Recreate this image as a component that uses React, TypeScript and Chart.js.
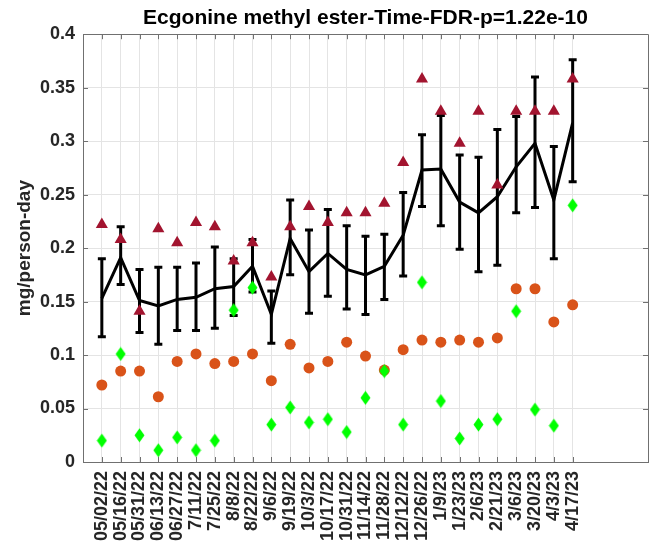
import React, { useEffect, useRef } from 'react';
import { Chart, registerables } from 'chart.js';
Chart.register(...registerables);

const titleText = 'Ecgonine methyl ester-Time-FDR-p=1.22e-10';
const yTitle = 'mg/person-day';

const dates = ['05/02/22', '05/16/22', '05/31/22', '06/13/22', '06/27/22', '7/11/22', '7/25/22', '8/8/22', '8/22/22', '9/6/22', '9/19/22', '10/3/22', '10/17/22', '10/31/22', '11/14/22', '11/28/22', '12/12/22', '12/26/22', '1/9/23', '1/23/23', '2/6/23', '2/21/23', '3/6/23', '3/20/23', '4/3/23', '4/17/23'];

const meanValues = [0.153, 0.191, 0.151, 0.146, 0.152, 0.154, 0.162, 0.164, 0.183, 0.138, 0.209, 0.178, 0.195, 0.180, 0.175, 0.183, 0.212, 0.273, 0.274, 0.243, 0.233, 0.248, 0.276, 0.298, 0.245, 0.317];
const errHigh = [0.190, 0.220, 0.180, 0.182, 0.182, 0.186, 0.201, 0.190, 0.208, 0.160, 0.245, 0.217, 0.236, 0.221, 0.211, 0.213, 0.252, 0.306, 0.324, 0.287, 0.285, 0.311, 0.323, 0.360, 0.295, 0.376];
const errLow = [0.117, 0.166, 0.121, 0.110, 0.123, 0.123, 0.125, 0.137, 0.159, 0.111, 0.175, 0.139, 0.155, 0.143, 0.138, 0.152, 0.174, 0.239, 0.221, 0.199, 0.178, 0.184, 0.233, 0.238, 0.190, 0.262];
const maxValues = [0.222, 0.208, 0.141, 0.218, 0.205, 0.224, 0.220, 0.188, 0.205, 0.173, 0.220, 0.239, 0.224, 0.233, 0.233, 0.242, 0.280, 0.358, 0.328, 0.298, 0.328, 0.259, 0.328, 0.328, 0.328, 0.358];
const circleValues = [0.072, 0.085, 0.085, 0.061, 0.094, 0.101, 0.092, 0.094, 0.101, 0.076, 0.110, 0.088, 0.094, 0.112, 0.099, 0.086, 0.105, 0.114, 0.112, 0.114, 0.112, 0.116, 0.162, 0.162, 0.131, 0.147];
const diamondValues = [0.020, 0.101, 0.025, 0.011, 0.023, 0.011, 0.020, 0.142, 0.163, 0.035, 0.051, 0.037, 0.040, 0.028, 0.060, 0.085, 0.035, 0.168, 0.057, 0.022, 0.035, 0.040, 0.141, 0.049, 0.034, 0.240];

const yMin = 0;
const yMax = 0.4;
const yStep = 0.05;
const xMin = 0;
const xMax = 30;

const FONT = '"Liberation Sans", Arial, Helvetica, sans-serif';
const AXIS_COLOR = '#707070';
const GRID_COLOR = '#e4e4e4';

export default function App() {
  const ref = useRef<HTMLCanvasElement>(null);

  useEffect(() => {
    const canvas = ref.current;
    if (!canvas) return;

    const diamond = document.createElement('canvas');
    diamond.width = 11;
    diamond.height = 15;
    const dctx = diamond.getContext('2d')!;
    dctx.fillStyle = '#00ff00';
    dctx.beginPath();
    dctx.moveTo(5.5, 0.5);
    dctx.lineTo(10.5, 7.5);
    dctx.lineTo(5.5, 14.5);
    dctx.lineTo(0.5, 7.5);
    dctx.closePath();
    dctx.fill();

    const pts = (arr: number[]) => arr.map((v, i) => ({ x: i + 1, y: v }));

    const errorBars = {
      id: 'errorBars',
      beforeDatasetsDraw(chart: any) {
        const { ctx, scales } = chart;
        const xs = scales.x;
        const ys = scales.y;
        ctx.save();
        ctx.strokeStyle = '#000';
        ctx.lineWidth = 3;
        ctx.lineCap = 'butt';
        errHigh.forEach((hi, i) => {
          const px = xs.getPixelForValue(i + 1);
          const pHi = ys.getPixelForValue(hi);
          const pLo = ys.getPixelForValue(errLow[i]);
          ctx.beginPath();
          ctx.moveTo(px, pHi);
          ctx.lineTo(px, pLo);
          ctx.moveTo(px - 4, pHi);
          ctx.lineTo(px + 4, pHi);
          ctx.moveTo(px - 4, pLo);
          ctx.lineTo(px + 4, pLo);
          ctx.stroke();
        });
        ctx.restore();
      },
    };

    const frame = {
      id: 'frame',
      afterDraw(chart: any) {
        const { ctx, chartArea, scales } = chart;
        const { left, right, top, bottom } = chartArea;
        ctx.save();
        ctx.strokeStyle = AXIS_COLOR;
        ctx.lineWidth = 1;
        ctx.beginPath();
        ctx.rect(Math.round(left) + 0.5, Math.round(top) + 0.5, Math.round(right - left), Math.round(bottom - top));
        ctx.stroke();
        ctx.beginPath();
        scales.x.ticks.forEach((t: any) => {
          const px = Math.round(scales.x.getPixelForValue(t.value)) + 0.5;
          ctx.moveTo(px, bottom);
          ctx.lineTo(px, bottom - 5);
          ctx.moveTo(px, top);
          ctx.lineTo(px, top + 5);
        });
        scales.y.ticks.forEach((t: any) => {
          const py = Math.round(scales.y.getPixelForValue(t.value)) + 0.5;
          ctx.moveTo(left, py);
          ctx.lineTo(left + 5, py);
          ctx.moveTo(right, py);
          ctx.lineTo(right - 5, py);
        });
        ctx.stroke();
        ctx.restore();
      },
    };

    const chart = new Chart(canvas, {
      type: 'scatter',
      data: {
        datasets: [
          {
            label: 'max',
            data: pts(maxValues),
            pointStyle: 'triangle',
            pointRadius: 7,
            pointHoverRadius: 7,
            backgroundColor: '#a2142f',
            borderColor: '#a2142f',
            borderWidth: 0,
            order: 1,
          },
          {
            label: 'diamond',
            data: pts(diamondValues),
            pointStyle: diamond,
            pointRadius: 7,
            backgroundColor: '#00ff00',
            borderColor: '#00ff00',
            order: 2,
          },
          {
            label: 'circle',
            data: pts(circleValues),
            pointStyle: 'circle',
            pointRadius: 5.5,
            pointHoverRadius: 5.5,
            backgroundColor: '#d95319',
            borderColor: '#d95319',
            borderWidth: 0,
            order: 3,
          },
          {
            label: 'mean',
            data: pts(meanValues),
            showLine: true,
            borderColor: '#000',
            backgroundColor: '#000',
            borderWidth: 3,
            pointRadius: 0,
            tension: 0,
            order: 10,
          } as any,
        ],
      },
      options: {
        animation: false,
        responsive: true,
        maintainAspectRatio: false,
        layout: { padding: { left: 0, right: 3, top: 0, bottom: 0 } },
        plugins: {
          legend: { display: false },
          tooltip: { enabled: false },
          title: {
            display: true,
            text: titleText,
            fullSize: false,
            color: '#000',
            font: { family: FONT, size: 21, weight: 'bold' },
            padding: { top: 6, bottom: 3 },
          },
        },
        scales: {
          x: {
            type: 'linear',
            min: xMin,
            max: xMax,
            afterBuildTicks: (scale: any) => {
              scale.ticks = dates.map((_, i) => ({ value: i + 1 }));
            },
            afterFit: (scale: any) => {
              scale.height = 93;
            },
            grid: { color: GRID_COLOR, drawTicks: false },
            border: { display: true, color: AXIS_COLOR },
            ticks: {
              autoSkip: false,
              minRotation: 90,
              maxRotation: 90,
              padding: 9,
              color: '#262626',
              font: { family: FONT, size: 18, weight: 'bold' },
              callback: (v: any) => dates[Number(v) - 1] ?? '',
            },
          },
          y: {
            type: 'linear',
            min: yMin,
            max: yMax,
            afterFit: (scale: any) => {
              scale.width = 83;
            },
            grid: { color: GRID_COLOR, drawTicks: false },
            border: { display: true, color: AXIS_COLOR },
            ticks: {
              stepSize: yStep,
              padding: 8,
              color: '#262626',
              font: { family: FONT, size: 18, weight: 'bold' },
              callback: (v: any) => String(Math.round(Number(v) * 100) / 100),
            },
            title: {
              display: true,
              text: yTitle,
              color: '#262626',
              font: { family: FONT, size: 19, weight: 'bold' },
              padding: { top: 13, bottom: 0 },
            },
          },
        },
      },
      plugins: [errorBars, frame],
    } as any);

    return () => chart.destroy();
  }, []);

  return (
    <div style={{ position: 'fixed', left: 0, top: 0, width: 656, height: 555, background: '#fff' }}>
      <canvas ref={ref} />
    </div>
  );
}
